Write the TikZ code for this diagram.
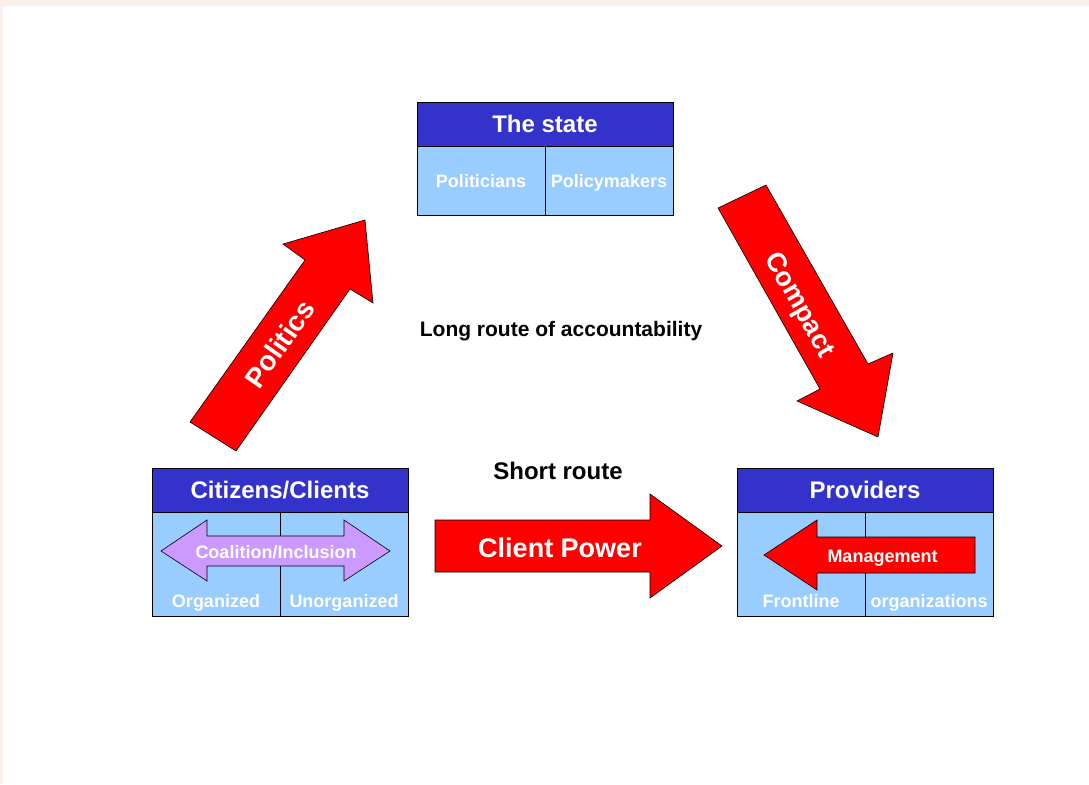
\documentclass[tikz,border=0pt]{standalone}
\usepackage{fontspec}
\setmainfont{Liberation Sans}
\definecolor{hdrblue}{HTML}{3333CC}
\definecolor{cellblue}{HTML}{99CCFF}
\definecolor{lavender}{HTML}{CC99FF}
\definecolor{framepink}{HTML}{FBEEEB}
\tikzset{
  hdrbox/.style={draw=black, line width=0.8pt, fill=hdrblue, text=white,
    font=\fontsize{24}{28}\selectfont\bfseries, minimum width=256pt, minimum height=44pt,
    inner sep=0pt, text height=17pt, text depth=0pt},
  cellbox/.style={draw=black, line width=0.8pt, fill=cellblue, text=white,
    font=\fontsize{18}{21}\selectfont\bfseries, minimum width=128pt,
    inner sep=0pt, text height=13pt, text depth=0pt},
  celltext/.style={text=white, font=\fontsize{18}{21}\selectfont\bfseries,
    inner sep=0pt, text height=13pt, text depth=0pt},
  redarrow/.style={fill=red, draw=black, line width=0.6pt, line join=miter},
  lavarrow/.style={fill=lavender, draw=black, line width=0.6pt, line join=miter},
  arrowtext/.style={text=white, font=\fontsize{27}{32}\selectfont\bfseries,
    inner sep=0pt, text height=19pt, text depth=0pt},
  plaintext/.style={text=black, inner sep=0pt}
}
\begin{document}
\begin{tikzpicture}[x=1pt,y=-1pt]
\useasboundingbox (0,0) rectangle (1089,784);
\fill[framepink] (0,0) rectangle (1089,6);
\fill[framepink] (0,0) rectangle (3,784);

% The state
\node[hdrbox] (stateH) at (545,124) {The state};
\node[cellbox, minimum height=69pt] (stateL) at (481,180.5) {Politicians};
\node[cellbox, minimum height=69pt] (stateR) at (609,180.5) {Policymakers};

% Citizens / Clients
\node[hdrbox] (citH) at (280,490) {Citizens/Clients};
\node[cellbox, minimum height=104pt] (citL) at (216,564) {};
\node[cellbox, minimum height=104pt] (citR) at (344,564) {};
\node[celltext] (citLt) at (216,600.5) {Organized};
\node[celltext] (citRt) at (344,600.5) {Unorganized};

% Providers
\node[hdrbox] (provH) at (865,490) {Providers};
\node[cellbox, minimum height=104pt] (provL) at (801,564) {};
\node[cellbox, minimum height=104pt] (provR) at (929,564) {};
\node[celltext] (provLt) at (801,600.5) {Frontline};
\node[celltext] (provRt) at (929,600.5) {organizations};

% Coalition/Inclusion double arrow
\draw[lavarrow] (161,551) -- (207,520) -- (207,536) -- (344,536) -- (344,520)
  -- (390,551) -- (344,581) -- (344,566) -- (207,566) -- (207,581) -- cycle;
\node[celltext] (coal) at (276,552) {Coalition/Inclusion};

% Management arrow
\draw[redarrow] (764,555) -- (817,520) -- (817,537) -- (975,537) -- (975,573)
  -- (817,573) -- (817,590) -- cycle;
\node[celltext] (mgmt) at (882.5,556) {Management};

% Client Power arrow
\draw[redarrow] (435,520) -- (650,520) -- (650,494) -- (722,546) -- (650,598)
  -- (650,572) -- (435,572) -- cycle;
\node[arrowtext] (cpow) at (560,547.5) {Client Power};

% Politics arrow
\draw[redarrow] (190,422) -- (305,260) -- (283,244) -- (365,220) -- (373,303)
  -- (350,289) -- (236,451) -- cycle;
\node[arrowtext, font=\fontsize{28}{32}\selectfont\bfseries, rotate=55] (pol) at (280,344) {Politics};

% Compact arrow
\draw[redarrow] (718,208) -- (766,185) -- (868,364) -- (893,353) -- (878,437)
  -- (797,401) -- (820,389) -- cycle;
\node[arrowtext, rotate=-60.5] (comp) at (801,304) {Compact};

% Plain labels
\node[plaintext, font=\fontsize{21}{25}\selectfont\bfseries, text height=15pt, text depth=0pt] (longr) at (561,329) {Long route of accountability};
\node[plaintext, font=\fontsize{24}{28}\selectfont\bfseries, text height=17pt, text depth=0pt] (shortr) at (558,471) {Short route};
\end{tikzpicture}
\end{document}
